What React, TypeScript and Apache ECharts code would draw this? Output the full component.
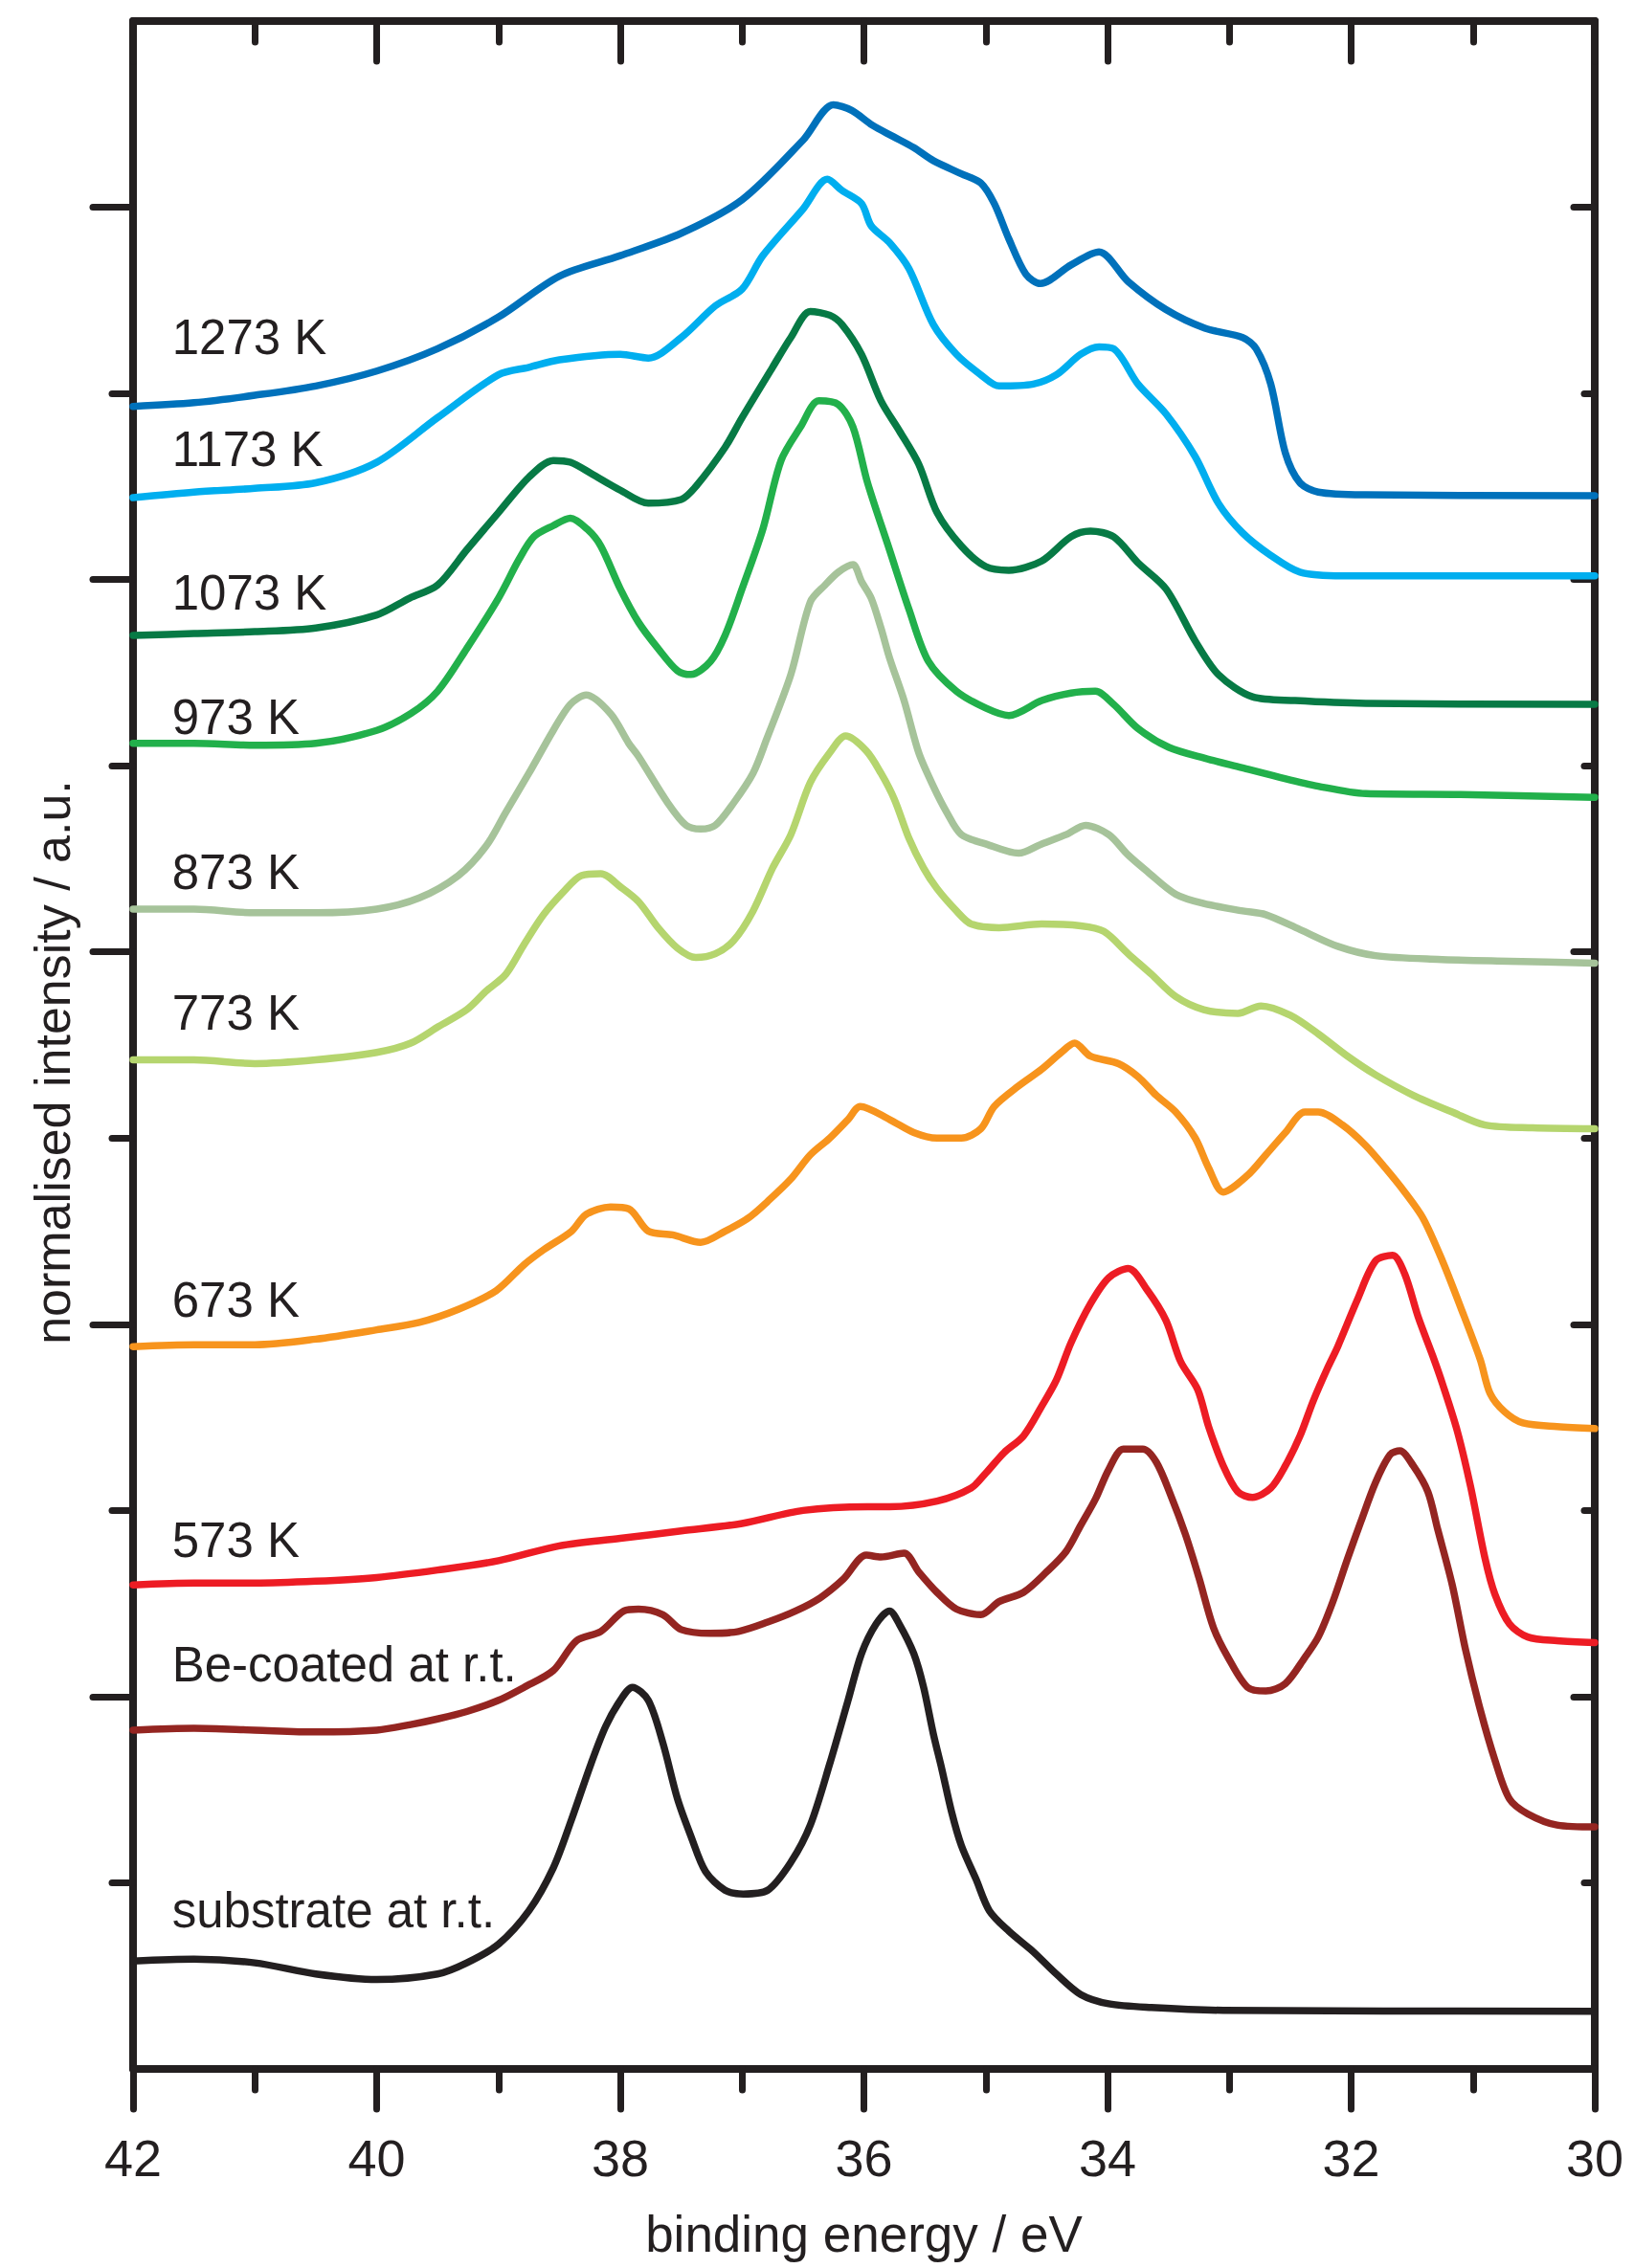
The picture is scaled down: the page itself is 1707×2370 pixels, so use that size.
import React, { useEffect, useRef } from "react";
import * as echarts from "echarts";

// binding energy (eV) / normalised intensity (a.u., offset stacked)
const s1273 = [[42,8.93],[41.5,8.95],[41,8.99],[40.5,9.04],[40,9.12],[39.5,9.24],[39,9.41],[38.5,9.63],[38,9.74],[37.5,9.86],[37,10.04],[36.5,10.36],[36.25,10.55],[36.1,10.52],[35.93,10.44],[35.76,10.38],[35.59,10.32],[35.43,10.25],[35.2,10.18],[35.04,10.13],[34.93,10.02],[34.81,9.83],[34.67,9.64],[34.55,9.59],[34.3,9.69],[34.07,9.76],[33.83,9.6],[33.52,9.45],[33.2,9.35],[32.89,9.3],[32.78,9.24],[32.66,9.05],[32.54,8.68],[32.42,8.52],[32.27,8.47],[31.88,8.455],[30,8.45]];
const s1173 = [[42,8.44],[41.5,8.47],[41,8.49],[40.5,8.52],[40,8.63],[39.5,8.87],[39,9.1],[38.75,9.14],[38.5,9.18],[38,9.21],[37.77,9.19],[37.5,9.3],[37.22,9.47],[37,9.56],[36.83,9.74],[36.5,9.99],[36.3,10.15],[36.18,10.09],[36.02,10.02],[35.94,9.9],[35.79,9.81],[35.63,9.67],[35.43,9.37],[35.24,9.21],[35.04,9.1],[34.89,9.04],[34.61,9.05],[34.42,9.1],[34.22,9.21],[34.07,9.25],[33.95,9.24],[33.75,9.05],[33.52,8.89],[33.28,8.66],[33.09,8.41],[32.89,8.25],[32.66,8.13],[32.42,8.04],[32.07,8.02],[30,8.02]];
const s1073 = [[42,7.7],[41.5,7.71],[41,7.72],[40.5,7.74],[40,7.81],[39.73,7.9],[39.5,7.97],[39.26,8.16],[39,8.36],[38.75,8.55],[38.55,8.64],[38.41,8.63],[38.24,8.57],[38,8.48],[37.77,8.41],[37.5,8.43],[37.38,8.5],[37.14,8.71],[37,8.87],[36.75,9.14],[36.6,9.3],[36.44,9.44],[36.28,9.42],[36.18,9.37],[36.02,9.21],[35.86,8.96],[35.71,8.8],[35.55,8.62],[35.4,8.36],[35.2,8.18],[35,8.07],[34.81,8.05],[34.54,8.1],[34.3,8.23],[34.14,8.26],[33.95,8.23],[33.75,8.09],[33.52,7.95],[33.28,7.67],[33.09,7.49],[32.81,7.37],[32.46,7.35],[31.88,7.335],[30,7.33]];
const s973 = [[42,7.12],[41.5,7.12],[41,7.11],[40.5,7.12],[40,7.19],[39.72,7.28],[39.5,7.4],[39.26,7.63],[39,7.9],[38.83,8.11],[38.71,8.23],[38.55,8.29],[38.41,8.33],[38.27,8.27],[38.16,8.18],[38,7.95],[37.85,7.77],[37.69,7.63],[37.53,7.51],[37.42,7.49],[37.26,7.56],[37.14,7.7],[37,7.95],[36.83,8.27],[36.68,8.64],[36.52,8.82],[36.37,8.96],[36.21,8.94],[36.09,8.82],[35.97,8.52],[35.79,8.16],[35.63,7.84],[35.47,7.56],[35.24,7.4],[35,7.31],[34.81,7.27],[34.54,7.35],[34.3,7.39],[34.1,7.4],[33.95,7.33],[33.75,7.2],[33.5,7.1],[33.2,7.04],[32.9,6.99],[32.6,6.94],[32.27,6.89],[31.88,6.85],[31.1,6.845],[30,6.83]];
const s873 = [[42,6.23],[41.5,6.23],[41,6.21],[40.5,6.21],[40,6.23],[39.65,6.29],[39.33,6.41],[39.1,6.57],[38.94,6.75],[38.75,6.96],[38.55,7.19],[38.41,7.33],[38.28,7.38],[38.08,7.28],[37.93,7.12],[37.85,7.05],[37.61,6.8],[37.46,6.68],[37.34,6.66],[37.22,6.68],[37.07,6.8],[36.91,6.96],[36.8,7.14],[36.6,7.49],[36.44,7.88],[36.32,7.97],[36.21,8.04],[36.09,8.08],[36.02,7.99],[35.94,7.9],[35.86,7.74],[35.79,7.58],[35.67,7.35],[35.55,7.07],[35.43,6.89],[35.32,6.75],[35.2,6.63],[35,6.58],[34.73,6.53],[34.54,6.58],[34.34,6.63],[34.18,6.68],[33.99,6.63],[33.83,6.52],[33.67,6.43],[33.44,6.31],[33.21,6.26],[32.89,6.22],[32.7,6.2],[32.42,6.12],[32.11,6.03],[31.8,5.98],[31.29,5.96],[30.7,5.95],[30,5.94]];
const s773 = [[42,5.42],[41.5,5.42],[41,5.4],[40.5,5.42],[40,5.46],[39.72,5.51],[39.49,5.6],[39.26,5.69],[39.1,5.79],[38.94,5.88],[38.79,6.04],[38.63,6.2],[38.47,6.32],[38.32,6.41],[38.16,6.42],[38,6.35],[37.85,6.27],[37.69,6.13],[37.53,6.02],[37.38,5.97],[37.22,5.99],[37.07,6.06],[36.91,6.22],[36.75,6.45],[36.6,6.63],[36.44,6.91],[36.28,7.07],[36.15,7.16],[35.98,7.08],[35.86,6.96],[35.75,6.82],[35.63,6.61],[35.51,6.45],[35.4,6.34],[35.24,6.22],[35.12,6.15],[34.89,6.13],[34.54,6.15],[34.22,6.14],[34.03,6.11],[33.83,5.99],[33.64,5.88],[33.44,5.76],[33.21,5.69],[32.93,5.67],[32.74,5.71],[32.5,5.66],[32.27,5.56],[32.03,5.44],[31.8,5.34],[31.49,5.23],[31.17,5.14],[30.9,5.07],[30.51,5.055],[30,5.05]];
const s673 = [[42,3.88],[41.5,3.89],[41,3.89],[40.5,3.92],[40,3.97],[39.65,4.01],[39.33,4.08],[39.02,4.18],[38.79,4.32],[38.63,4.4],[38.4,4.5],[38.28,4.59],[38.08,4.63],[37.93,4.62],[37.77,4.5],[37.57,4.48],[37.34,4.44],[37.14,4.5],[36.95,4.57],[36.79,4.66],[36.6,4.78],[36.44,4.91],[36.28,5.0],[36.13,5.1],[36.03,5.17],[35.79,5.1],[35.59,5.03],[35.4,5.0],[35.2,5.0],[35.04,5.05],[34.93,5.17],[34.73,5.28],[34.54,5.37],[34.38,5.46],[34.27,5.51],[34.14,5.44],[33.91,5.4],[33.75,5.33],[33.6,5.23],[33.44,5.14],[33.28,5.0],[33.17,4.84],[33.05,4.71],[32.85,4.8],[32.7,4.91],[32.54,5.03],[32.38,5.14],[32.27,5.14],[32.07,5.07],[31.88,4.96],[31.72,4.84],[31.56,4.71],[31.41,4.57],[31.25,4.34],[31.1,4.09],[30.94,3.81],[30.86,3.63],[30.74,3.53],[30.59,3.47],[30.31,3.45],[30,3.44]];
const s573 = [[42,2.6],[41.5,2.61],[41,2.61],[40.5,2.62],[40,2.64],[39.5,2.68],[39,2.73],[38.5,2.81],[38,2.85],[37.5,2.89],[37,2.93],[36.5,3.0],[35.97,3.02],[35.79,3.02],[35.4,3.05],[35.12,3.12],[35,3.2],[34.85,3.31],[34.69,3.4],[34.54,3.56],[34.42,3.7],[34.3,3.9],[34.14,4.11],[33.99,4.25],[33.83,4.3],[33.67,4.18],[33.52,4.02],[33.4,3.8],[33.26,3.65],[33.17,3.45],[33.05,3.24],[32.93,3.1],[32.81,3.07],[32.66,3.12],[32.54,3.24],[32.42,3.4],[32.31,3.59],[32.19,3.77],[32.11,3.88],[31.95,4.13],[31.8,4.34],[31.66,4.37],[31.56,4.27],[31.45,4.04],[31.33,3.83],[31.25,3.68],[31.13,3.43],[31.02,3.13],[30.9,2.74],[30.82,2.55],[30.7,2.39],[30.55,2.32],[30.31,2.3],[30,2.29]];
const sBe = [[42,1.82],[41.5,1.83],[41,1.82],[40.5,1.81],[40,1.82],[39.72,1.85],[39.5,1.88],[39.26,1.92],[39,1.98],[38.79,2.05],[38.55,2.14],[38.36,2.3],[38.16,2.35],[37.97,2.46],[37.85,2.47],[37.65,2.44],[37.5,2.36],[37.26,2.34],[37.03,2.35],[36.79,2.4],[36.56,2.46],[36.36,2.53],[36.17,2.63],[35.98,2.76],[35.86,2.75],[35.67,2.77],[35.55,2.67],[35.4,2.56],[35.24,2.47],[35.04,2.44],[34.89,2.51],[34.69,2.56],[34.5,2.67],[34.34,2.78],[34.22,2.92],[34.1,3.06],[33.99,3.22],[33.87,3.33],[33.71,3.33],[33.6,3.26],[33.48,3.08],[33.36,2.87],[33.25,2.64],[33.13,2.37],[33.01,2.21],[32.85,2.05],[32.7,2.03],[32.54,2.07],[32.38,2.21],[32.27,2.32],[32.15,2.51],[32.03,2.74],[31.92,2.94],[31.8,3.15],[31.68,3.3],[31.6,3.32],[31.49,3.24],[31.37,3.1],[31.29,2.9],[31.17,2.6],[31.06,2.25],[30.94,1.93],[30.82,1.66],[30.7,1.45],[30.55,1.37],[30.31,1.31],[30,1.3]];
const sSub = [[42,0.58],[41.5,0.59],[41,0.57],[40.5,0.51],[40,0.48],[39.5,0.51],[39.26,0.57],[39,0.67],[38.75,0.85],[38.55,1.08],[38.4,1.34],[38.24,1.64],[38.12,1.84],[38,1.98],[37.9,2.05],[37.77,1.98],[37.65,1.75],[37.53,1.45],[37.42,1.25],[37.3,1.06],[37.14,0.96],[36.99,0.94],[36.79,0.96],[36.6,1.11],[36.44,1.31],[36.28,1.64],[36.13,1.98],[36.02,2.23],[35.9,2.39],[35.79,2.46],[35.71,2.39],[35.59,2.23],[35.51,2.05],[35.43,1.8],[35.36,1.61],[35.28,1.38],[35.2,1.2],[35.08,1.02],[34.97,0.85],[34.81,0.74],[34.61,0.63],[34.42,0.51],[34.22,0.4],[33.99,0.35],[33.64,0.33],[33.05,0.315],[30,0.31]];

const seriesNames = ["1273 K", "1173 K", "1073 K", "973 K", "873 K", "773 K", "673 K", "573 K", "Be-coated at r.t.", "substrate at r.t."];
const seriesData = [s1273, s1173, s1073, s973, s873, s773, s673, s573, sBe, sSub];
const seriesColors = ["#0071bb", "#00aeef", "#077a45", "#22b04b", "#a6c39a", "#b5d56e", "#f7941d", "#ed1c24", "#942521", "#231f20"];

// label anchor: binding energy of left edge, intensity of vertical centre
const labelX = [41.68, 41.68, 41.68, 41.68, 41.68, 41.68, 41.68, 41.68, 41.68, 41.68];
const labelY = [9.3, 8.7, 7.93, 7.26, 6.43, 5.67, 4.13, 2.84, 2.17, 0.85];

const xTickLabels = [30, 32, 34, 36, 38, 40, 42];
const yMajor = [2, 4, 6, 8, 10];
const yMinor = [1, 3, 5, 7, 9];

const INK = "#231f20";
const FONT = "'Liberation Sans', Arial, Helvetica, sans-serif";

export default function App() {
  const ref = useRef<HTMLDivElement>(null);

  useEffect(() => {
    const el = ref.current;
    if (!el) return;
    const chart = echarts.init(el, null, { renderer: "svg" });

    const baseX = (pos: "bottom" | "top") => ({
      type: "value",
      position: pos,
      inverse: true,
      min: 30,
      max: 42,
      interval: 2,
      axisLine: { show: true, onZero: false, lineStyle: { color: INK, width: 8, cap: "round" } },
      axisTick: { show: true, inside: pos === "top", length: 42, lineStyle: { color: INK, width: 7, cap: "round" } },
      minorTick: { show: true, splitNumber: 2, length: 22, lineStyle: { color: INK, width: 7, cap: "round" } },
      splitLine: { show: false },
      minorSplitLine: { show: false },
      axisLabel: pos === "bottom"
        ? {
            show: true,
            margin: 66,
            color: INK,
            fontSize: 54,
            fontFamily: FONT,
            customValues: xTickLabels,
          }
        : { show: false },
    });

    const baseY = (pos: "left" | "right", major: boolean, showLine: boolean) => ({
      type: "value",
      position: pos,
      min: 0,
      max: 11,
      interval: 1,
      axisLine: { show: showLine, onZero: false, lineStyle: { color: INK, width: 8, cap: "round" } },
      axisTick: {
        show: true,
        inside: pos === "right",
        length: pos === "left" ? (major ? 42 : 22) : (major ? 22 : 11),
        customValues: major ? yMajor : yMinor,
        lineStyle: { color: INK, width: 7, cap: "round" },
      },
      axisLabel: { show: false },
      splitLine: { show: false },
    });

    const xBottom: any = {
      ...baseX("bottom"),
      name: "binding energy / eV",
      nameLocation: "middle",
      nameGap: 146,
      nameTextStyle: { color: INK, fontSize: 53, fontFamily: FONT },
    };
    const yLeft: any = {
      ...baseY("left", true, true),
      name: "normalised intensity / a.u.",
      nameLocation: "middle",
      nameGap: 58,
      nameTextStyle: { color: INK, fontSize: 52, fontFamily: FONT, padding: [0, 36, 0, 0] },
    };

    const option: any = {
      animation: false,
      backgroundColor: "#ffffff",
      grid: { left: 139, right: 41, top: 22, bottom: 208, containLabel: false },
      xAxis: [xBottom, baseX("top")],
      yAxis: [yLeft, baseY("left", false, false), baseY("right", true, true), baseY("right", false, false)],
      series: seriesData.map((d, i) => ({
        name: seriesNames[i],
        type: "line",
        xAxisIndex: 0,
        yAxisIndex: 0,
        data: d,
        showSymbol: false,
        symbol: "none",
        smooth: 0.3,
        lineStyle: { color: seriesColors[i], width: 7.5, join: "round", cap: "round" },
        itemStyle: { color: seriesColors[i] },
        z: 2 + i,
      })),
    };
    chart.setOption(option);

    const graphics = seriesNames.map((t, i) => {
      const p = chart.convertToPixel({ xAxisIndex: 0, yAxisIndex: 0 }, [labelX[i], labelY[i]]) as number[];
      return {
        type: "text",
        x: p[0],
        y: p[1],
        z: 50,
        style: {
          text: t,
          fill: INK,
          fontSize: 51,
          fontFamily: FONT,
          textAlign: "left",
          textVerticalAlign: "middle",
          verticalAlign: "middle",
        },
      };
    });
    chart.setOption({ graphic: graphics });

    return () => chart.dispose();
  }, []);

  return (
    <div
      ref={ref}
      style={{ position: "absolute", left: 0, top: 0, width: 1707, height: 2370, background: "#fff" }}
    />
  );
}
